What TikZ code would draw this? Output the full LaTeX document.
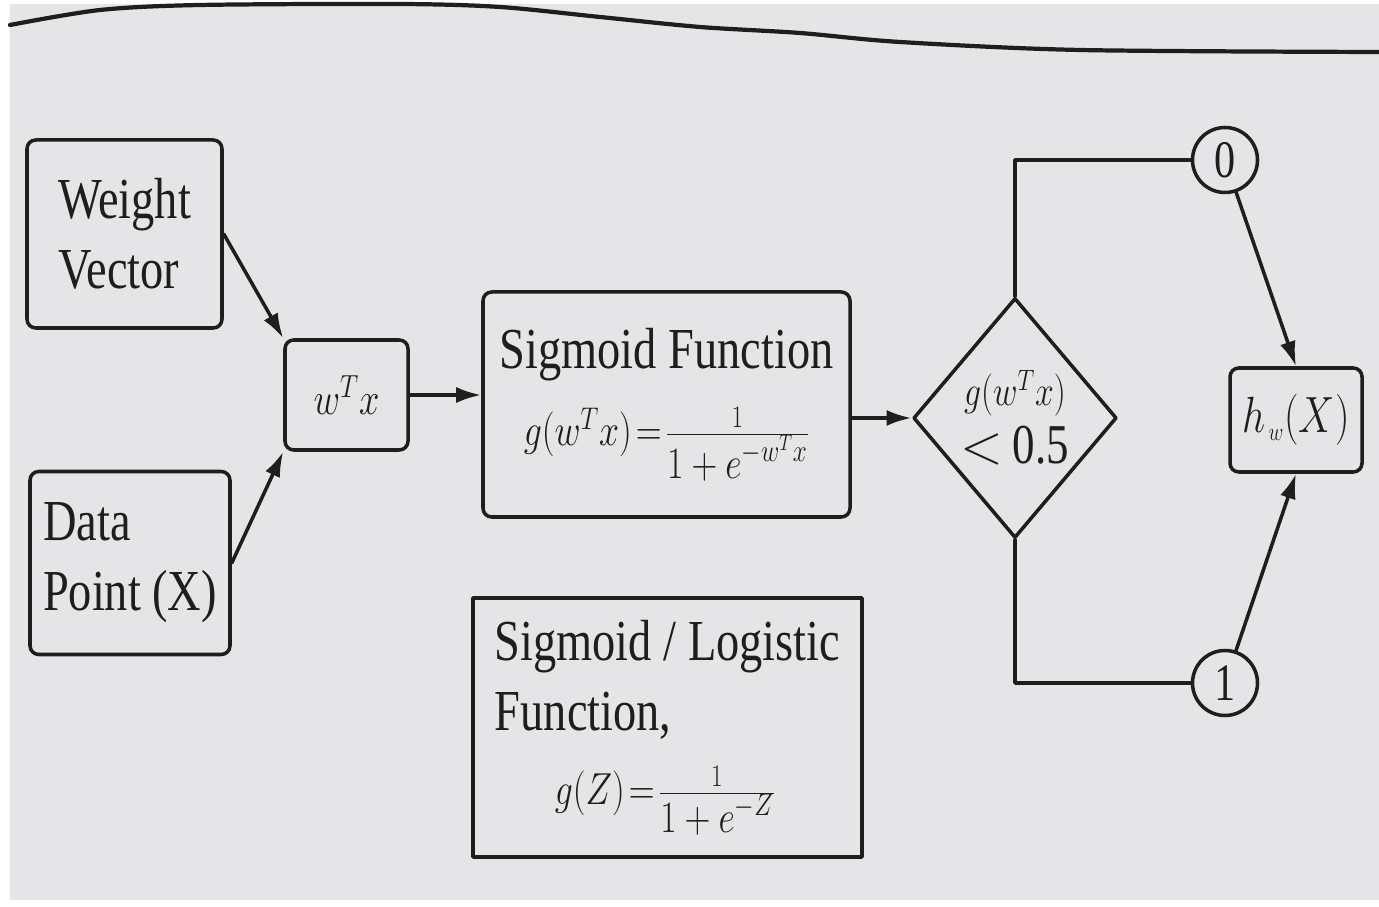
\RequirePackage{fix-cm}
\documentclass[tikz,border=0pt]{standalone}
\usepackage{fontspec}
\setmainfont{Liberation Serif}[FakeStretch=0.8]
\usepackage{graphicx}
\usepackage{xcolor}
\definecolor{paper}{HTML}{E5E5E7}
\definecolor{ink}{HTML}{1E1E1E}
\usetikzlibrary{arrows.meta,shapes.geometric,positioning}
\tikzset{
  >={Latex[length=5mm,width=3.2mm]},
  every picture/.style={line cap=round, line join=round},
  box/.style={draw=ink, line width=2pt, rounded corners=5pt, inner sep=0pt, text=ink},
  plainbox/.style={draw=ink, line width=2pt, inner sep=0pt, text=ink},
  bigtxt/.style={font=\fontsize{33}{40}\selectfont},
  flow/.style={draw=ink, line width=2pt},
}
\newcommand{\condmath}[1]{\scalebox{0.8}[1]{$#1$}}

\begin{document}
\begin{tikzpicture}[x=0.2cm, y=0.2cm]
\fill[white] (0,0) rectangle (137.9,90.6);
\fill[paper] (1,0.6) rectangle (137.9,90.2);
\useasboundingbox (0,0) rectangle (137.9,90.6);
% page edge
\draw[ink, line width=2.4pt] plot[smooth] coordinates {(1.0,88.1) (10,89.6) (20,90.1) (40,90.2) (50,89.9) (60,88.9) (70,87.9) (80,87.3) (90,86.4) (108,85.6) (137.9,85.4)};
% inputs
\node[box, bigtxt, align=left, minimum width=3.9cm, minimum height=3.76cm] (wv) at (12.45,67.2) {Weight\\Vector};
\node[box, bigtxt, align=left, minimum width=4cm, minimum height=3.66cm] (dp) at (13.0,34.3) {Data\\Point (X)};
\node[box, font=\fontsize{26}{30}\selectfont, minimum width=2.46cm, minimum height=2.2cm] (wx) at (34.65,51.1) {\condmath{w^Tx}};
% sigmoid
\node[box, bigtxt, align=center, minimum width=7.34cm, minimum height=4.5cm] (sig) at (66.65,50.15)
  {Sigmoid Function\\[4pt]{\fontsize{25.5}{30}\selectfont\condmath{g(w^Tx)\!=\!\frac{1}{\textstyle 1+e^{-w^Tx}}}}};
\node[plainbox, diamond, font=\fontsize{32}{33}\selectfont, align=center, minimum width=3.84cm, minimum height=4.8cm] (dia) at (101.5,48.8)
  {{\fontsize{24}{26}\selectfont\condmath{g(w^Tx)}}\\$<$\,0.5};
% outputs
\node[plainbox, circle, font=\fontsize{30}{36}\selectfont, minimum size=1.3cm] (c0) at (122.5,74.6) {0};
\node[plainbox, circle, font=\fontsize{30}{36}\selectfont, minimum size=1.3cm] (c1) at (122.5,22.3) {1};
\node[box, font=\fontsize{29}{34}\selectfont, minimum width=2.64cm, minimum height=2.08cm] (hw) at (129.6,48.6) {\condmath{h_{\mkern2mu\scriptscriptstyle w}(X)}};
% note
\node[plainbox, bigtxt, align=left, minimum width=7.78cm, minimum height=5.18cm] (lg) at (66.75,17.85)
  {Sigmoid / Logistic\\Function,\\[2pt]\hspace*{1.2cm}{\fontsize{25.5}{30}\selectfont\condmath{g(Z)\!=\!\frac{1}{\textstyle 1+e^{-Z}}}}};
% connectors
\draw[flow, ->] (wv.east) -- (wx.north west);
\draw[flow, ->] (dp.east) -- (wx.south west);
\draw[flow, ->] (wx.east) -- (wx.east -| sig.west);
\draw[flow, ->] (dia.west -| sig.east) -- (dia.west);
\draw[flow] (dia.north) |- (c0.west);
\draw[flow] (dia.south) |- (c1.west);
\draw[flow, ->] (c0) -- (hw.north);
\draw[flow, ->] (c1) -- (hw.south);
\end{tikzpicture}
\end{document}
